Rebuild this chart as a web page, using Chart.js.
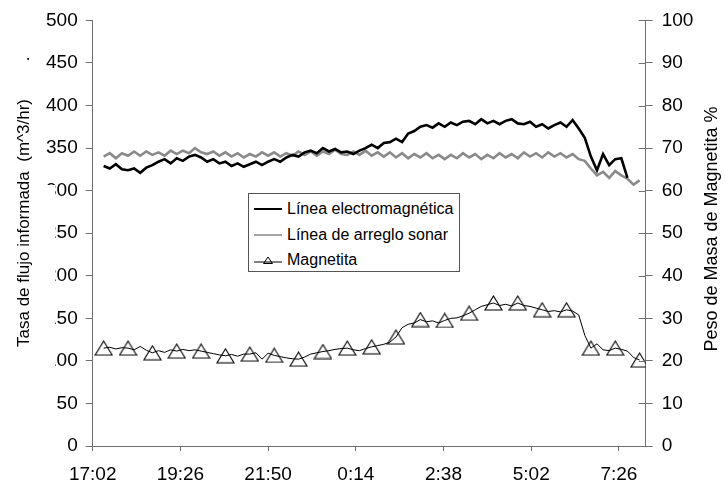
<!DOCTYPE html>
<html>
<head>
<meta charset="utf-8">
<script src="https://cdn.jsdelivr.net/npm/chart.js@4.4.1/dist/chart.umd.min.js"></script>
<style>
  html, body { margin: 0; padding: 0; background: #fff; }
  #wrap { position: relative; width: 725px; height: 487px; }
  #legend { position: absolute; left: 248px; top: 193px; width: 210px; height: 77px;
    border: 1px solid #555; background: #fff; font-family: "Liberation Sans", Arial, sans-serif;
    font-size: 16px; color: #000; }
  .row { position: absolute; left: 0; height: 20px; line-height: 20px; white-space: nowrap; }
  .row svg { position: absolute; left: 4px; top: 0; }
  .row span { position: absolute; left: 38px; top: 0; }
</style>
</head>
<body>
<div id="wrap">
  <canvas id="c" width="725" height="487"></canvas>
  <div id="legend"></div>
</div>
<script>
// ---- data ----
const timeLabels = [
  "17:20","17:30","17:40","17:50",
  "18:00","18:10","18:20","18:30","18:40","18:50",
  "19:00","19:10","19:20","19:30","19:40","19:50",
  "20:00","20:10","20:20","20:30","20:40","20:50",
  "21:00","21:10","21:20","21:30","21:40","21:50",
  "22:00","22:10","22:20","22:30","22:40","22:50",
  "23:00","23:10","23:20","23:30","23:40","23:50",
  "0:00","0:10","0:20","0:30","0:40","0:50",
  "1:00","1:10","1:20","1:30","1:40","1:50",
  "2:00","2:10","2:20","2:30","2:40","2:50",
  "3:00","3:10","3:20","3:30","3:40","3:50",
  "4:00","4:10","4:20","4:30","4:40","4:50",
  "5:00","5:10","5:20","5:30","5:40","5:50",
  "6:00","6:10","6:20","6:30","6:40","6:50",
  "7:00","7:10","7:20","7:30","7:40","7:50",
  "8:00"
];
const electromagnetica = [
  329,326,331,325,324,326,321,327,330,334,
  337,332,338,335,340,342,339,334,337,332,
  334,329,332,328,331,334,330,334,337,334,
  339,342,340,345,347,344,350,346,349,345,
  346,343,347,350,354,350,356,357,361,357,
  367,370,375,377,374,379,375,380,377,381,
  382,378,384,379,382,378,382,384,379,378,
  381,375,378,373,377,380,375,383,373,362,
  340,324,343,330,337,338,315
];
const sonar = [
  340,344,338,344,341,346,341,346,342,345,
  341,347,343,347,344,350,345,343,346,341,
  345,340,344,339,343,340,345,341,345,340,
  344,341,346,342,346,341,346,343,348,343,
  342,346,342,347,341,345,340,345,339,344,
  338,343,339,344,338,342,337,342,338,344,
  339,343,337,342,338,344,339,343,338,345,
  340,344,339,345,340,344,339,343,337,335,
  326,318,322,315,323,318,314,307,312
];
const magnetita = [
  23.0,23.2,22.8,23.1,23.0,22.6,23.4,22.5,21.9,22.4,
  22.0,22.6,22.3,22.7,22.4,22.6,22.3,22.0,21.7,21.4,
  21.2,21.5,21.1,21.6,21.6,21.9,20.4,21.8,21.3,21.0,
  20.7,20.5,20.4,20.9,21.6,21.9,22.2,22.4,22.7,22.9,
  23.0,22.6,22.4,22.9,23.3,23.6,23.9,24.4,25.6,27.8,
  28.6,28.9,29.7,29.2,29.4,28.9,29.5,30.0,30.1,30.6,
  31.2,32.0,32.8,33.2,33.6,33.0,33.3,32.9,33.6,33.0,
  32.8,32.4,32.0,31.6,31.8,31.5,32.0,31.7,30.8,26.0,
  23.0,24.0,22.6,22.4,23.0,22.7,22.3,20.8,20.2
];
const seriesNames = ["Línea electromagnética", "Línea de arreglo sonar", "Magnetita"];
const xTickLabels = ["17:02","19:26","21:50","0:14","2:38","5:02","7:26"];
const xRange = ["17:02","8:10"];
const leftTicks = [0,50,100,150,200,250,300,350,400,450,500];
const rightTicks = [0,10,20,30,40,50,60,70,80,90,100];
const leftTitle = "Tasa de flujo informada  (m^3/hr)        .";
const rightTitle = "Peso de Masa de Magnetita %";

// ---- helpers ----
function toHours(s) {
  const p = s.split(":").map(Number);
  let v = p[0] + p[1] / 60;
  if (v < 12) v += 24;
  return v;
}
function pts(vals) { return vals.map((v, i) => ({ x: toHours(timeLabels[i]), y: v })); }

const FONT = "'Liberation Sans', Arial, sans-serif";
const AXIS = "#707070";

// hollow triangle marker, centred in its box like the original
const tri = document.createElement("canvas");
tri.width = 19; tri.height = 16;
(function () {
  const c = tri.getContext("2d");
  c.strokeStyle = "#000"; c.lineWidth = 1.1;
  c.beginPath(); c.moveTo(9.5, 1); c.lineTo(18, 15); c.lineTo(1, 15); c.closePath(); c.stroke();
})();

const overlay = {
  id: "overlay",
  afterDraw(chart) {
    const ctx = chart.ctx;
    const yr = chart.scales.yR;
    const ca = chart.chartArea;
    ctx.save();
    ctx.strokeStyle = AXIS; ctx.lineWidth = 1;
    rightTicks.forEach(v => {
      const y = Math.round(yr.getPixelForValue(v)) + 0.5;
      ctx.beginPath(); ctx.moveTo(ca.right - 7, y); ctx.lineTo(ca.right, y); ctx.stroke();
    });
    ctx.fillStyle = "#fff";
    ctx.fillRect(8, 185, 47, 195);
    ctx.fillStyle = "#000";
    ctx.font = "17px " + FONT;
    ctx.textBaseline = "middle";
    ctx.textAlign = "left";
    ctx.translate(24, 347);
    ctx.rotate(-Math.PI / 2);
    ctx.fillText(leftTitle, 0, 0);
    ctx.restore();
    ctx.save();
    ctx.fillStyle = "#000";
    ctx.font = "18px " + FONT;
    ctx.textBaseline = "middle";
    ctx.textAlign = "center";
    ctx.translate(712, 229);
    ctx.rotate(-Math.PI / 2);
    ctx.fillText(rightTitle, 0, 0);
    ctx.restore();
  }
};

const chart = new Chart(document.getElementById("c"), {
  type: "line",
  data: {
    datasets: [
      { label: seriesNames[0], data: pts(electromagnetica), yAxisID: "yL",
        borderColor: "#000", borderWidth: 2.6, pointRadius: 0, tension: 0 },
      { label: seriesNames[1], data: pts(sonar), yAxisID: "yL",
        borderColor: "#8a8a8a", borderWidth: 2.6, pointRadius: 0, tension: 0 },
      { label: seriesNames[2], data: pts(magnetita), yAxisID: "yR",
        borderColor: "#000", borderWidth: 1, tension: 0,
        pointStyle: tri,
        pointRadius: ctx => (ctx.dataIndex % 4 === 0 ? 9 : 0) }
    ]
  },
  options: {
    responsive: false,
    devicePixelRatio: 1,
    animation: false,
    layout: { padding: { top: 16, left: 0, right: 0, bottom: 0 } },
    plugins: { legend: { display: false }, tooltip: { enabled: false } },
    scales: {
      x: {
        type: "linear",
        min: toHours(xRange[0]), max: toHours(xRange[1]),
        afterBuildTicks: s => { s.ticks = xTickLabels.map(l => ({ value: toHours(l) })); },
        afterFit: s => { s.height = 41; },
        ticks: { callback: (v, i) => xTickLabels[i], color: "#000", padding: 12,
          font: { family: FONT, size: 19 }, maxRotation: 0, autoSkip: false },
        grid: { drawOnChartArea: false, tickLength: 5, color: AXIS },
        border: { color: AXIS }
      },
      yL: {
        position: "left", min: 0, max: 500,
        afterBuildTicks: s => { s.ticks = leftTicks.map(v => ({ value: v })); },
        afterFit: s => { s.width = 92.7; },
        ticks: { color: "#000", padding: 8, font: { family: FONT, size: 19 } },
        grid: { drawOnChartArea: false, tickLength: 7, color: AXIS },
        border: { color: AXIS }
      },
      yR: {
        position: "right", min: 0, max: 100,
        afterBuildTicks: s => { s.ticks = rightTicks.map(v => ({ value: v })); },
        afterFit: s => { s.width = 79.3; },
        ticks: { color: "#000", padding: 9, font: { family: FONT, size: 19 } },
        grid: { drawOnChartArea: false, tickLength: 7, color: AXIS },
        border: { color: AXIS }
      }
    }
  },
  plugins: [overlay]
});

// ---- HTML legend built from the datasets ----
const lg = document.getElementById("legend");
const samples = [
  '<svg width="30" height="20"><line x1="1" y1="10" x2="29" y2="10" stroke="#000" stroke-width="2"/></svg>',
  '<svg width="30" height="20"><line x1="1" y1="10" x2="29" y2="10" stroke="#888" stroke-width="1.5"/></svg>',
  '<svg width="30" height="20"><line x1="1" y1="12" x2="29" y2="12" stroke="#000" stroke-width="1"/><polygon points="15,7 19.5,13.5 10.5,13.5" fill="none" stroke="#000" stroke-width="1"/></svg>'
];
chart.data.datasets.forEach((d, i) => {
  const r = document.createElement("div");
  r.className = "row";
  r.style.top = (5 + i * 25.5) + "px";
  r.innerHTML = samples[i] + "<span></span>";
  r.querySelector("span").textContent = d.label;
  lg.appendChild(r);
});
</script>
</body>
</html>
